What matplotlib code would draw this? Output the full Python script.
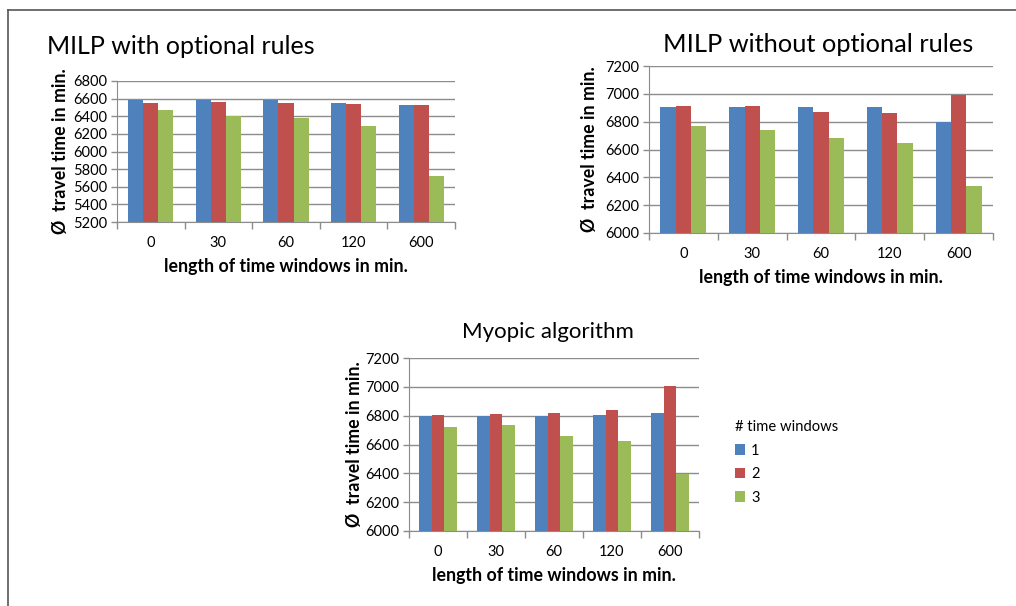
import numpy as np
import matplotlib
matplotlib.use('Agg')
import matplotlib.pyplot as plt
from matplotlib.lines import Line2D

plt.rcParams['font.family'] = ['Lato', 'DejaVu Sans']

categories = ['0', '30', '60', '120', '600']
series_names = ['1', '2', '3']

# average travel time, one list per number of time windows
milp_opt = {
    '1': [6589, 6590, 6580, 6547, 6532],
    '2': [6555, 6566, 6555, 6536, 6532],
    '3': [6475, 6408, 6377, 6294, 5721],
}
milp_noopt = {
    '1': [6907, 6902, 6902, 6902, 6800],
    '2': [6912, 6916, 6866, 6859, 6990],
    '3': [6768, 6742, 6684, 6649, 6335],
}
myopic = {
    '1': [6799, 6799, 6799, 6806, 6820],
    '2': [6806, 6811, 6820, 6836, 7008],
    '3': [6718, 6732, 6660, 6621, 6398],
}

colors = ['#4F81BD', '#C0504D', '#9BBB59']
grid_col = '#8C8C8C'

W, H = 1016, 606
fig = plt.figure(figsize=(W / 100, H / 100), dpi=100)

def px_axes(x0, y0, x1, y1):
    # pixel box (top-left origin) -> figure fraction axes
    return fig.add_axes([x0 / W, 1 - y1 / H, (x1 - x0) / W, (y1 - y0) / H])

def bar_chart(ax, data, ylim, ystep, ylabelpad=5):
    x = np.arange(len(categories))
    bw = 0.222
    for i, s in enumerate(series_names):
        ax.bar(x + (i - 1) * bw, data[s], width=bw, color=colors[i], label=s, zorder=3)
    ax.set_ylim(*ylim)
    ax.set_xlim(-0.5, len(categories) - 0.5)
    ax.set_yticks(np.arange(ylim[0], ylim[1] + 1, ystep))
    ax.yaxis.grid(True, color=grid_col, lw=1.0, zorder=0)
    ax.set_axisbelow(True)
    # category boundaries get the tick marks, the labels sit in between
    ax.set_xticks(np.arange(-0.5, len(categories)), minor=False)
    ax.set_xticklabels([])
    ax.set_xticks(x, minor=True)
    ax.set_xticklabels(categories, minor=True, fontsize=10.5)
    ax.tick_params(axis='x', which='minor', length=0, pad=10)
    ax.tick_params(axis='x', which='major', length=5, color=grid_col, width=1)
    ax.tick_params(axis='y', length=4, color=grid_col, width=1, labelsize=10.5, pad=3)
    for sp in ['top', 'right']:
        ax.spines[sp].set_visible(False)
    for sp in ['left', 'bottom']:
        ax.spines[sp].set_color(grid_col)
    ax.set_xlabel('length of time windows in min.', fontsize=12.8, fontweight='bold', labelpad=6)
    ax.set_ylabel('Ø  travel time in min.', fontsize=12.8, fontweight='bold', labelpad=ylabelpad)

ax1 = px_axes(117, 81, 455, 222)
bar_chart(ax1, milp_opt, (5200, 6800), 200, ylabelpad=3)
fig.text(47 / W, 1 - 46 / H, 'MILP with optional rules', fontsize=18, va='center', ha='left')

ax2 = px_axes(649, 66, 993, 233)
bar_chart(ax2, milp_noopt, (6000, 7200), 200)
fig.text(818 / W, 1 - 45 / H, 'MILP without optional rules', fontsize=18.3, va='center', ha='center')

ax3 = px_axes(409, 358, 699, 531)
bar_chart(ax3, myopic, (6000, 7200), 200, ylabelpad=1.5)
fig.text(548 / W, 1 - 332 / H, 'Myopic algorithm', fontsize=16, va='center', ha='center')

leg = fig.legend(*ax3.get_legend_handles_labels(), title='# time windows',
                 loc='upper left', bbox_to_anchor=(722 / W, 1 - 407 / H),
                 frameon=False, fontsize=10.5, title_fontsize=10.6,
                 handlelength=0.7, handleheight=0.7, handletextpad=0.4,
                 labelspacing=0.65, alignment='left')

# frame lines of the original slide (left and top only)
fig.add_artist(Line2D([8 / W, 8 / W], [0, 1 - 10 / H], color='#555555', lw=1.2))
fig.add_artist(Line2D([8 / W, 1], [1 - 10 / H, 1 - 10 / H], color='#555555', lw=1.2))

fig.savefig('out.png', dpi=100, facecolor='white')
